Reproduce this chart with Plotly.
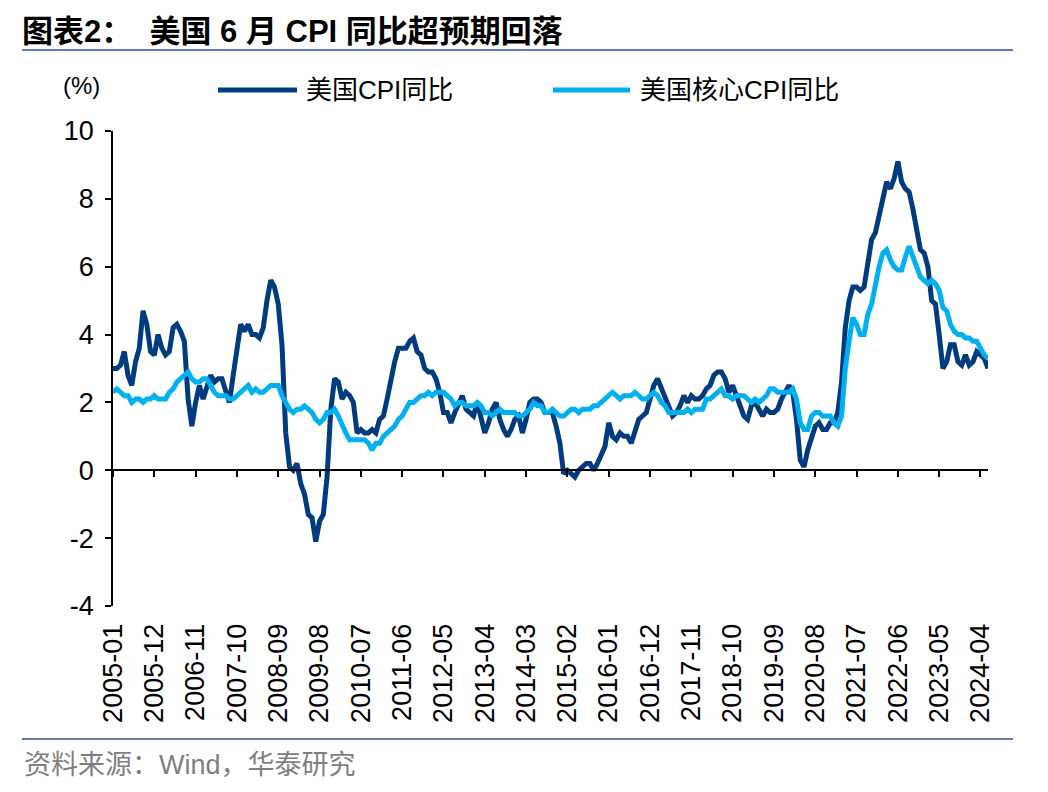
import plotly.graph_objects as go

# ---------------- data ----------------
years = list(range(2005, 2025))
months = [f"{y}-{m:02d}" for y in years for m in range(1, 13)][:234]  # 2005-01 .. 2024-06

cpi_yoy = [
    3.0, 3.0, 3.1, 3.5, 2.8, 2.5, 3.2, 3.6, 4.7, 4.3, 3.5, 3.4,   # 2005
    4.0, 3.6, 3.4, 3.5, 4.2, 4.3, 4.1, 3.8, 2.1, 1.3, 2.0, 2.5,   # 2006
    2.1, 2.4, 2.8, 2.6, 2.7, 2.7, 2.4, 2.0, 2.8, 3.5, 4.3, 4.1,   # 2007
    4.3, 4.0, 4.0, 3.9, 4.2, 5.0, 5.6, 5.4, 4.9, 3.7, 1.1, 0.1,   # 2008
    0.0, 0.2, -0.4, -0.7, -1.3, -1.4, -2.1, -1.5, -1.3, -0.2, 1.8, 2.7,  # 2009
    2.6, 2.1, 2.3, 2.2, 2.0, 1.1, 1.2, 1.1, 1.1, 1.2, 1.1, 1.5,   # 2010
    1.6, 2.1, 2.7, 3.2, 3.6, 3.6, 3.6, 3.8, 3.9, 3.5, 3.4, 3.0,   # 2011
    2.9, 2.9, 2.7, 2.3, 1.7, 1.7, 1.4, 1.7, 2.0, 2.2, 1.8, 1.7,   # 2012
    1.6, 2.0, 1.5, 1.1, 1.4, 1.8, 2.0, 1.5, 1.2, 1.0, 1.2, 1.5,   # 2013
    1.6, 1.1, 1.5, 2.0, 2.1, 2.1, 2.0, 1.7, 1.7, 1.7, 1.3, 0.8,   # 2014
    -0.1, 0.0, -0.1, -0.2, 0.0, 0.1, 0.2, 0.2, 0.0, 0.2, 0.5, 0.7,  # 2015
    1.4, 1.0, 0.9, 1.1, 1.0, 1.0, 0.8, 1.1, 1.5, 1.6, 1.7, 2.1,   # 2016
    2.5, 2.7, 2.4, 2.2, 1.9, 1.6, 1.7, 1.9, 2.2, 2.0, 2.2, 2.1,   # 2017
    2.1, 2.2, 2.4, 2.5, 2.8, 2.9, 2.9, 2.7, 2.3, 2.5, 2.2, 1.9,   # 2018
    1.6, 1.5, 1.9, 2.0, 1.8, 1.6, 1.8, 1.7, 1.7, 1.8, 2.1, 2.3,   # 2019
    2.5, 2.3, 1.5, 0.3, 0.1, 0.6, 1.0, 1.3, 1.4, 1.2, 1.2, 1.4,   # 2020
    1.4, 1.7, 2.6, 4.2, 5.0, 5.4, 5.4, 5.3, 5.4, 6.2, 6.8, 7.0,   # 2021
    7.5, 7.9, 8.5, 8.3, 8.6, 9.1, 8.5, 8.3, 8.2, 7.7, 7.1, 6.5,   # 2022
    6.4, 6.0, 5.0, 4.9, 4.0, 3.0, 3.2, 3.7, 3.7, 3.2, 3.1, 3.4,   # 2023
    3.1, 3.2, 3.5, 3.4, 3.3, 3.0,                                 # 2024
]

core_cpi_yoy = [
    2.3, 2.4, 2.3, 2.2, 2.2, 2.0, 2.1, 2.1, 2.0, 2.1, 2.1, 2.2,   # 2005
    2.1, 2.1, 2.1, 2.3, 2.4, 2.6, 2.7, 2.8, 2.9, 2.7, 2.6, 2.6,   # 2006
    2.7, 2.7, 2.5, 2.3, 2.2, 2.2, 2.2, 2.1, 2.1, 2.2, 2.3, 2.4,   # 2007
    2.5, 2.3, 2.4, 2.3, 2.3, 2.4, 2.5, 2.5, 2.5, 2.2, 2.0, 1.8,   # 2008
    1.7, 1.8, 1.8, 1.9, 1.8, 1.7, 1.5, 1.4, 1.5, 1.7, 1.7, 1.8,   # 2009
    1.6, 1.3, 1.1, 0.9, 0.9, 0.9, 0.9, 0.9, 0.8, 0.6, 0.8, 0.8,   # 2010
    1.0, 1.1, 1.2, 1.3, 1.5, 1.6, 1.8, 2.0, 2.0, 2.1, 2.2, 2.2,   # 2011
    2.3, 2.2, 2.3, 2.3, 2.3, 2.2, 2.1, 1.9, 2.0, 2.0, 1.9, 1.9,   # 2012
    1.9, 2.0, 1.9, 1.7, 1.7, 1.6, 1.7, 1.8, 1.7, 1.7, 1.7, 1.7,   # 2013
    1.6, 1.6, 1.7, 1.8, 2.0, 1.9, 1.9, 1.7, 1.7, 1.8, 1.7, 1.6,   # 2014
    1.6, 1.7, 1.8, 1.8, 1.7, 1.8, 1.8, 1.8, 1.9, 1.9, 2.0, 2.1,   # 2015
    2.2, 2.3, 2.2, 2.1, 2.2, 2.2, 2.2, 2.3, 2.2, 2.1, 2.1, 2.2,   # 2016
    2.3, 2.2, 2.0, 1.9, 1.7, 1.7, 1.7, 1.7, 1.7, 1.8, 1.7, 1.8,   # 2017
    1.8, 1.8, 2.1, 2.1, 2.2, 2.3, 2.4, 2.2, 2.2, 2.1, 2.2, 2.2,   # 2018
    2.2, 2.1, 2.0, 2.1, 2.0, 2.1, 2.2, 2.4, 2.4, 2.3, 2.3, 2.3,   # 2019
    2.3, 2.4, 2.1, 1.4, 1.2, 1.2, 1.6, 1.7, 1.7, 1.6, 1.6, 1.6,   # 2020
    1.4, 1.3, 1.6, 3.0, 3.8, 4.5, 4.3, 4.0, 4.0, 4.6, 4.9, 5.5,   # 2021
    6.0, 6.4, 6.5, 6.2, 6.0, 5.9, 5.9, 6.3, 6.6, 6.3, 6.0, 5.7,   # 2022
    5.6, 5.5, 5.6, 5.5, 5.3, 4.8, 4.7, 4.3, 4.1, 4.0, 4.0, 3.9,   # 2023
    3.9, 3.8, 3.8, 3.6, 3.4, 3.3,                                 # 2024
]

series_names = ["美国CPI同比", "美国核心CPI同比"]
tick_labels = months[::11]          # 2005-01, 2005-12, ... 2024-04
y_ticks = [-4, -2, 0, 2, 4, 6, 8, 10]
y_tick_text = ["-4", "-2", "0", "2", "4", "6", "8", "10"]

title_text = "图表2：  美国 6 月 CPI 同比超预期回落"
source_text = "资料来源：Wind，华泰研究"
unit_text = "(%)"

# ---------------- styling ----------------
DARK = "#003B7F"
LIGHT = "#00B0F0"
RULE = "#5A7DB2"
FONT = "Liberation Sans, Arial, Noto Sans CJK SC, sans-serif"
CJK = "Liberation Sans, Noto Sans CJK SC"

OFF = 8  # page body margin offset (screen = figure + OFF)
W, H = 1048 - OFF, 792 - OFF
# plot area in screen pixels
SL, SR, ST, SB = 113, 988, 131, 606
L, R, T, B = SL - OFF, SR - OFF, ST - OFF, SB - OFF


def px(xs):
    return (xs - SL) / (SR - SL)


def py(ys):
    return (SB - ys) / (SB - ST)


idx = list(range(len(months)))
tick_pos = idx[::11]

fig = go.Figure()
fig.add_trace(go.Scatter(x=idx, y=cpi_yoy, mode="lines", name=series_names[0],
                         line=dict(color=DARK, width=5), xaxis="x", yaxis="y",
                         customdata=months, hovertemplate="%{customdata}: %{y}<extra></extra>"))
fig.add_trace(go.Scatter(x=idx, y=core_cpi_yoy, mode="lines", name=series_names[1],
                         line=dict(color=LIGHT, width=5), xaxis="x2", yaxis="y",
                         customdata=months, hovertemplate="%{customdata}: %{y}<extra></extra>"))

xr = [0, len(months) - 1]
fig.update_layout(
    width=W, height=H,
    margin=dict(l=L, r=W - R, t=T, b=H - B, pad=0),
    paper_bgcolor="white", plot_bgcolor="white",
    showlegend=False,
    font=dict(family=FONT, size=24, color="black"),
    title=dict(text=f"<b>{title_text}</b>", x=(22 - OFF) / W, xanchor="left",
               y=1 - (31 - OFF) / H, yanchor="middle", yref="container",
               font=dict(family=CJK, size=31, color="black")),
    xaxis=dict(range=xr, tickmode="array", tickvals=tick_pos, ticktext=tick_labels,
               tickangle=-90, showgrid=False, zeroline=False, showline=False,
               ticks="outside", ticklen=6, tickcolor="rgba(0,0,0,0)",
               tickfont=dict(size=27, family=FONT), anchor="y"),
    xaxis2=dict(range=xr, overlaying="x", matches="x", anchor="free",
                position=(0 - (-4)) / 14, side="bottom",
                tickmode="array", tickvals=tick_pos, showticklabels=False,
                showgrid=False, zeroline=False, showline=True, linecolor="black",
                linewidth=1.5, ticks="outside", ticklen=6, tickwidth=1.5,
                tickcolor="black"),
    yaxis=dict(range=[-4, 10], tickmode="array", tickvals=y_ticks, ticktext=y_tick_text,
               showgrid=False, zeroline=False, showline=True, linecolor="black",
               linewidth=1.5, ticks="outside", ticklen=6, tickwidth=1.5,
               tickcolor="black", ticklabelstandoff=6,
               tickfont=dict(size=27, family=FONT)),
)

shapes = [
    # title rule
    dict(type="line", xref="paper", yref="paper", x0=px(22), x1=px(1013),
         y0=py(50), y1=py(50), line=dict(color=RULE, width=2)),
    # footer rule
    dict(type="line", xref="paper", yref="paper", x0=px(22), x1=px(1013),
         y0=py(739), y1=py(739), line=dict(color=RULE, width=2)),
    # legend swatches
    dict(type="line", xref="paper", yref="paper", x0=px(218), x1=px(297),
         y0=py(90), y1=py(90), line=dict(color=DARK, width=5)),
    dict(type="line", xref="paper", yref="paper", x0=px(553), x1=px(630),
         y0=py(90), y1=py(90), line=dict(color=LIGHT, width=5)),
]
annotations = [
    dict(text=series_names[0], xref="paper", yref="paper", x=px(304), y=py(90),
         xanchor="left", yanchor="middle", showarrow=False,
         font=dict(size=26, family=CJK)),
    dict(text=series_names[1], xref="paper", yref="paper", x=px(638), y=py(90),
         xanchor="left", yanchor="middle", showarrow=False,
         font=dict(size=26, family=CJK)),
    dict(text=unit_text, xref="paper", yref="paper", x=px(81), y=py(85),
         xanchor="center", yanchor="middle", showarrow=False,
         font=dict(size=24, family=FONT)),
    dict(text=source_text, xref="paper", yref="paper", x=px(22), y=py(765),
         xanchor="left", yanchor="middle", showarrow=False,
         font=dict(size=27, color="#7F7F7F", family=CJK)),
]
fig.update_layout(shapes=shapes, annotations=annotations)

fig.write_html("out.html")
